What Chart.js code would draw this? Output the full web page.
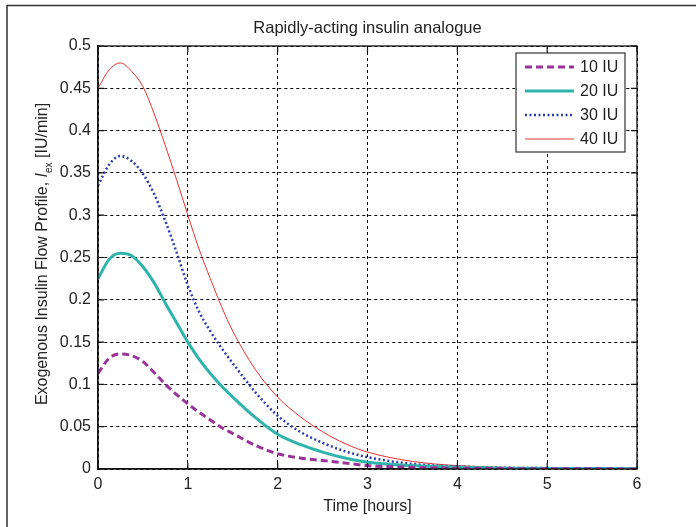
<!DOCTYPE html>
<html>
<head>
<meta charset="utf-8">
<script src="https://cdn.jsdelivr.net/npm/chart.js@4.4.0/dist/chart.umd.min.js"></script>
<style>
  html, body { margin: 0; padding: 0; background: #fff; }
  #wrap { width: 696px; height: 527px; position: relative; }
</style>
</head>
<body>
<div id="wrap"><canvas id="insulinChart" width="696" height="527"></canvas></div>
<script>
// time in hours
const hours = [0, 0.125, 0.25, 0.375, 0.5, 0.625, 0.75, 0.875, 1, 1.125, 1.25, 1.375, 1.5, 1.75, 2, 2.25, 2.5, 2.75, 3, 3.5, 4, 4.5, 5, 5.5, 6];

// flow profile [IU/min]
const iu10 = [0.113, 0.131, 0.136, 0.134, 0.127, 0.114, 0.100, 0.088, 0.077, 0.067, 0.058, 0.049, 0.042, 0.028, 0.018, 0.013, 0.010, 0.007, 0.004, 0.002, 0.001, 0.0005, 0.0003, 0.0002, 0.0001];
const iu20 = [0.225, 0.248, 0.255, 0.252, 0.239, 0.220, 0.196, 0.173, 0.150, 0.130, 0.113, 0.098, 0.085, 0.061, 0.041, 0.029, 0.020, 0.013, 0.008, 0.004, 0.002, 0.001, 0.0007, 0.0005, 0.0003];
const iu30 = [0.335, 0.360, 0.370, 0.364, 0.349, 0.325, 0.293, 0.256, 0.217, 0.186, 0.163, 0.143, 0.125, 0.091, 0.063, 0.044, 0.031, 0.021, 0.014, 0.006, 0.003, 0.0015, 0.001, 0.0005, 0.0003];
const iu40 = [0.450, 0.472, 0.480, 0.470, 0.452, 0.420, 0.382, 0.342, 0.300, 0.260, 0.225, 0.192, 0.163, 0.118, 0.085, 0.062, 0.044, 0.030, 0.020, 0.009, 0.004, 0.002, 0.001, 0.0005, 0.0003];

const seriesLabels = ['10 IU', '20 IU', '30 IU', '40 IU'];
const xTicks = [0, 1, 2, 3, 4, 5, 6];
const yTicks = [0, 0.05, 0.1, 0.15, 0.2, 0.25, 0.3, 0.35, 0.4, 0.45, 0.5];

const titleText = 'Rapidly-acting insulin analogue';
const xTitle = 'Time [hours]';

const FONT = 'Arial, "Liberation Sans", sans-serif';
const TXT = '#222';

const toPoints = vals => vals.map((v, i) => ({ x: hours[i], y: v }));

const styles = [
  { color: '#9a3399', width: 3, dash: [7, 4] },
  { color: '#2fb3ad', width: 3, dash: [] },
  { color: '#2d3db0', width: 2.5, dash: [2, 2.5] },
  { color: '#e8322f', width: 1, dash: [] },
];

const datasets = [iu10, iu20, iu30, iu40].map((vals, i) => ({
  label: seriesLabels[i],
  data: toPoints(vals),
  borderColor: styles[i].color,
  borderWidth: styles[i].width,
  borderDash: styles[i].dash,
  pointRadius: 0,
  fill: false,
  cubicInterpolationMode: 'monotone',
}));

// frame, title, box, inner ticks, y title and legend
const decorations = {
  id: 'decorations',
  beforeDraw(chart) {
    const ctx = chart.ctx;
    ctx.save();
    ctx.fillStyle = '#fff';
    ctx.fillRect(0, 0, chart.width, chart.height);
    ctx.strokeStyle = '#333';
    ctx.lineWidth = 1.5;
    ctx.beginPath();
    ctx.moveTo(7, chart.height);
    ctx.lineTo(7, 5.5);
    ctx.lineTo(chart.width, 5.5);
    ctx.stroke();
    ctx.restore();
  },
  afterDraw(chart) {
    const ctx = chart.ctx;
    const a = chart.chartArea;
    const xs = chart.scales.x, ys = chart.scales.y;
    ctx.save();

    // axes box
    ctx.strokeStyle = '#111';
    ctx.lineWidth = 1.3;
    ctx.setLineDash([]);
    ctx.strokeRect(a.left, a.top, a.right - a.left, a.bottom - a.top);

    // inner tick marks on all four sides
    ctx.lineWidth = 1.2;
    ctx.beginPath();
    xTicks.forEach(t => {
      const px = xs.getPixelForValue(t);
      ctx.moveTo(px, a.bottom); ctx.lineTo(px, a.bottom - 6);
      ctx.moveTo(px, a.top); ctx.lineTo(px, a.top + 6);
    });
    yTicks.forEach(t => {
      const py = ys.getPixelForValue(t);
      ctx.moveTo(a.left, py); ctx.lineTo(a.left + 6, py);
      ctx.moveTo(a.right, py); ctx.lineTo(a.right - 6, py);
    });
    ctx.stroke();

    // title
    ctx.fillStyle = TXT;
    ctx.font = '16.5px ' + FONT;
    ctx.textAlign = 'center';
    ctx.textBaseline = 'middle';
    const cx = (a.left + a.right) / 2;
    ctx.fillText(titleText, cx, 28);

    // x title
    ctx.font = '16px ' + FONT;
    ctx.fillText(xTitle, cx, 507);

    // y title with italic I and subscript ex
    ctx.translate(43, 254);
    ctx.rotate(-Math.PI / 2);
    const parts = [
      { t: 'Exogenous Insulin Flow Profile, ', f: '16px ' + FONT, dy: 0 },
      { t: 'I', f: 'italic 16px ' + FONT, dy: 0 },
      { t: 'ex', f: '10px ' + FONT, dy: 6 },
      { t: ' [IU/min]', f: '16px ' + FONT, dy: 0 },
    ];
    let total = 0;
    parts.forEach(p => { ctx.font = p.f; p.w = ctx.measureText(p.t).width; total += p.w; });
    let px = -total / 2;
    ctx.textAlign = 'left';
    parts.forEach(p => {
      ctx.font = p.f;
      ctx.fillText(p.t, px, p.dy);
      px += p.w;
    });
    ctx.setTransform(1, 0, 0, 1, 0, 0);

    // legend box
    const lx = 516, ly = 53, lw = 109, lh = 99;
    ctx.fillStyle = '#fff';
    ctx.fillRect(lx, ly, lw, lh);
    ctx.strokeStyle = '#333';
    ctx.lineWidth = 1.2;
    ctx.strokeRect(lx, ly, lw, lh);
    const rows = [67, 91, 115, 139];
    chart.data.datasets.forEach((ds, i) => {
      const y = rows[i];
      ctx.strokeStyle = ds.borderColor;
      ctx.lineWidth = ds.borderWidth;
      ctx.setLineDash(ds.borderDash);
      ctx.beginPath();
      ctx.moveTo(525, y);
      ctx.lineTo(574, y);
      ctx.stroke();
      ctx.setLineDash([]);
      ctx.fillStyle = TXT;
      ctx.font = '16px ' + FONT;
      ctx.textAlign = 'left';
      ctx.fillText(ds.label, 580, y + 1);
    });

    ctx.restore();
  }
};

new Chart(document.getElementById('insulinChart'), {
  type: 'line',
  data: { datasets },
  options: {
    responsive: false,
    maintainAspectRatio: false,
    animation: false,
    layout: { padding: { left: 8, right: 59, top: 46, bottom: 28 } },
    plugins: {
      legend: { display: false },
      title: { display: false },
      tooltip: { enabled: false },
    },
    scales: {
      x: {
        type: 'linear',
        min: 0,
        max: 6,
        afterFit: s => { s.height = 30; },
        afterBuildTicks: s => { s.ticks = xTicks.map(v => ({ value: v })); },
        ticks: { font: { size: 16, family: FONT }, color: TXT, padding: 6, maxRotation: 0 },
        grid: { color: '#000', lineWidth: 1, drawTicks: false },
        border: { display: true, color: '#111', width: 1.3, dash: [3, 3] },
      },
      y: {
        min: 0,
        max: 0.5,
        afterFit: s => { s.width = 90; },
        afterBuildTicks: s => { s.ticks = yTicks.map(v => ({ value: v })); },
        ticks: { font: { size: 16, family: FONT }, color: TXT, padding: 7, callback: v => String(+v.toFixed(2)) },
        grid: { color: '#000', lineWidth: 1, drawTicks: false },
        border: { display: true, color: '#111', width: 1.3, dash: [3, 3] },
      },
    },
  },
  plugins: [decorations],
});
</script>
</body>
</html>
